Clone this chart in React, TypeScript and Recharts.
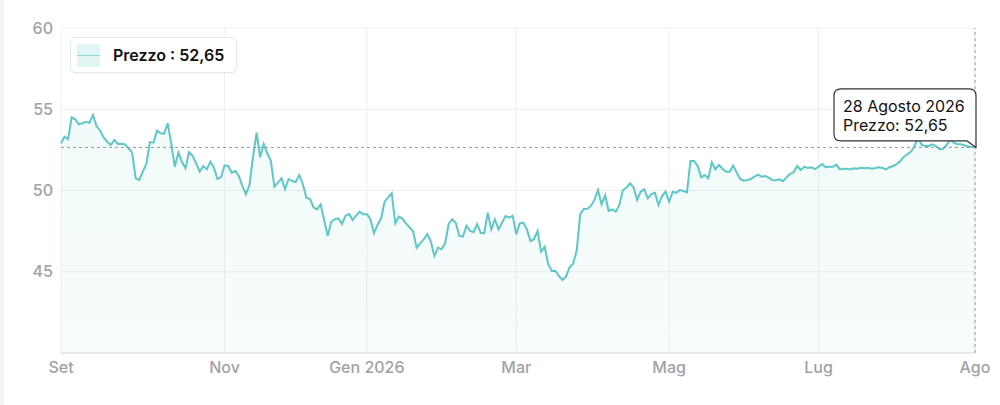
import React from 'react';
import { AreaChart, Area, XAxis, YAxis, CartesianGrid, ReferenceLine, ReferenceDot } from 'recharts';

// prezzi giornalieri, Set 2025 -> 28 Ago 2026
const prices = [
  52.90, 53.31, 53.17, 54.50, 54.38, 54.07, 54.14, 54.23, 54.17, 54.65,
  53.97, 53.68, 53.27, 53.00, 52.80, 53.11, 52.86, 52.88, 52.84, 52.60,
  52.33, 50.75, 50.65, 51.16, 51.63, 52.98, 52.94, 53.68, 53.52, 53.50,
  54.14, 52.90, 51.46, 52.33, 51.77, 51.37, 52.37, 52.14, 51.67, 51.16,
  51.51, 51.30, 51.77, 51.40, 50.71, 50.83, 51.55, 51.51, 51.10, 51.20,
  50.89, 50.28, 49.77, 50.34,
  52.08, 53.56, 52.04, 52.86, 52.29, 51.83, 50.23, 50.48, 50.75, 50.09,
  50.71, 50.58, 50.52, 50.95, 50.40, 49.56, 49.48, 48.97, 48.84, 49.15,
  48.18, 47.20, 48.08, 48.23, 48.29, 47.94, 48.45, 48.55, 48.18, 48.45,
  48.70, 48.54, 48.54, 48.25, 47.37, 47.88, 48.29, 49.31, 49.58, 49.83,
  47.98, 48.39, 48.27, 47.98, 47.74, 47.49, 46.48, 46.75, 47.00, 47.32,
  46.85, 45.97, 46.48, 46.38, 46.75, 47.94, 48.23, 48.02, 47.20, 47.16,
  47.83, 47.51, 47.43, 47.92, 47.40, 47.37, 48.63, 47.61, 48.23, 47.61,
  48.02, 48.43, 48.33, 48.45, 47.30, 47.98, 48.02, 47.61, 46.89, 47.00,
  47.51, 46.23, 46.54, 45.46, 45.05, 45.06, 44.74, 44.49, 44.70, 45.27,
  45.50, 46.30, 48.54, 48.86, 48.88, 49.05, 49.42, 50.03, 49.15, 49.72,
  48.74, 48.84,
  48.70, 49.11, 50.03, 50.17, 50.44, 50.20, 49.42, 49.93, 50.07, 49.52,
  49.78, 49.86, 49.11, 49.66, 49.93, 49.31, 49.93, 49.86, 50.03, 49.97,
  49.89, 51.82, 51.82, 51.53, 50.81, 50.95, 50.75, 51.74, 51.30, 51.57,
  51.34, 51.16, 51.16, 51.53, 51.10, 50.71, 50.60, 50.65, 50.71, 50.85,
  50.97, 50.85, 50.89, 50.79, 50.65, 50.63, 50.69, 50.57, 50.81, 51.02,
  51.12,
  51.51, 51.26, 51.46, 51.38, 51.43, 51.32, 51.46, 51.63, 51.43, 51.46,
  51.46, 51.59, 51.30, 51.34, 51.34, 51.30, 51.37, 51.34, 51.40, 51.37,
  51.40, 51.34, 51.38, 51.43, 51.38, 51.30, 51.43, 51.51, 51.63, 51.82,
  52.08, 52.23, 52.39, 52.74, 53.31, 52.80, 52.74, 52.74, 52.84, 52.74,
  52.54, 52.57, 52.78, 53.15, 52.94, 52.86, 52.84, 52.78, 52.70, 52.70,
  52.65,
];

const tickIdx = [0, 46, 86, 128, 171, 213, 257];
const tickLabels = ['Set', 'Nov', 'Gen 2026', 'Mar', 'Mag', 'Lug', 'Ago'];
const yTicks = [45, 50, 55, 60];
const lastDate = '28 Agosto 2026';
const seriesName = 'Prezzo';

const data = prices.map((p, i) => ({ i, price: p }));
const lastIdx = prices.length - 1;
const lastPrice = prices[lastIdx];
const fmt = (v: number) => v.toFixed(2).replace('.', ',');

const FONT = 'Inter, "Noto Sans", sans-serif';
const TEAL = '#5ec7c7';

// fumetto del tooltip, con la punta sull'ultimo punto
const Bubble = (props: any) => {
  const { cx, cy } = props;
  if (cx == null || cy == null) return null;
  const right = cx + 1;
  const left = right - 142;
  const bottom = cy - 6.5;
  const top = bottom - 52;
  const r = 7;
  const d = `M${left + r},${top} L${right - r},${top} Q${right},${top} ${right},${top + r} L${right},${cy} L${right - 9},${bottom} L${left + r},${bottom} Q${left},${bottom} ${left},${bottom - r} L${left},${top + r} Q${left},${top} ${left + r},${top} Z`;
  return (
    <g>
      <path d={d} fill="#fff" stroke="#333" strokeWidth={1.2} />
      <text x={left + 9} y={top + 23} fontSize={16} fill="#111" fontFamily={FONT}>{lastDate}</text>
      <text x={left + 9} y={top + 42} fontSize={16} fill="#111" fontFamily={FONT}>{`${seriesName}: ${fmt(lastPrice)}`}</text>
    </g>
  );
};

const App = () => {
  return (
    <div style={{ position: 'absolute', top: 0, left: 0, width: 1000, height: 405, background: '#fff', fontFamily: FONT }}>
      <div style={{ position: 'absolute', left: 0, top: 0, width: 4, height: 405, background: '#f4f5f7' }} />
      <AreaChart width={1000} height={405} data={data} margin={{ top: 28, right: 25, bottom: 22, left: 0 }}>
        <defs>
          <linearGradient id="fillGrad" x1="0" y1="0" x2="0" y2="1">
            <stop offset="0%" stopColor={TEAL} stopOpacity={0.14} />
            <stop offset="100%" stopColor={TEAL} stopOpacity={0.08} />
          </linearGradient>
        </defs>
        <CartesianGrid stroke="#eeeeee" />
        <XAxis
          dataKey="i"
          type="number"
          domain={[0, lastIdx]}
          ticks={tickIdx}
          tickFormatter={(v: number) => tickLabels[tickIdx.indexOf(v)] ?? ''}
          height={30}
          tickSize={0}
          tickMargin={9}
          stroke="#dddddd"
          tick={{ fill: '#9ea2a9', fontSize: 16, fontWeight: 500, fontFamily: FONT }}
        />
        <YAxis
          domain={[40, 60]}
          ticks={yTicks}
          width={61}
          axisLine={false}
          tickLine={false}
          tickSize={0}
          tickMargin={8}
          tick={{ fill: '#9ea2a9', fontSize: 16, fontWeight: 500, fontFamily: FONT }}
        />
        <Area
          type="linear"
          dataKey="price"
          stroke={TEAL}
          strokeWidth={2}
          fill="url(#fillGrad)"
          dot={false}
          activeDot={false}
          isAnimationActive={false}
        />
        <ReferenceLine y={lastPrice} stroke="#999" strokeDasharray="3 3" />
        <ReferenceLine x={lastIdx} stroke="#999" strokeDasharray="3 3" />
        <ReferenceDot x={lastIdx} y={lastPrice} shape={Bubble} />
      </AreaChart>
      <div
        style={{
          position: 'absolute', left: 70, top: 37, width: 167, height: 36, boxSizing: 'border-box',
          border: '1px solid #e5e7eb', borderRadius: 6, background: '#fff',
          boxShadow: '0 1px 2px rgba(0,0,0,0.05)', display: 'flex', alignItems: 'center', paddingLeft: 6,
        }}
      >
        <div style={{ width: 23, height: 23, background: 'rgba(94,199,199,0.18)', position: 'relative' }}>
          <div style={{ position: 'absolute', left: 0, right: 0, top: 11, height: 1, background: 'rgba(94,199,199,0.6)' }} />
        </div>
        <span style={{ marginLeft: 13, fontSize: 16, fontWeight: 600, color: '#111' }}>{`${seriesName} : ${fmt(lastPrice)}`}</span>
      </div>
    </div>
  );
};

export default App;
